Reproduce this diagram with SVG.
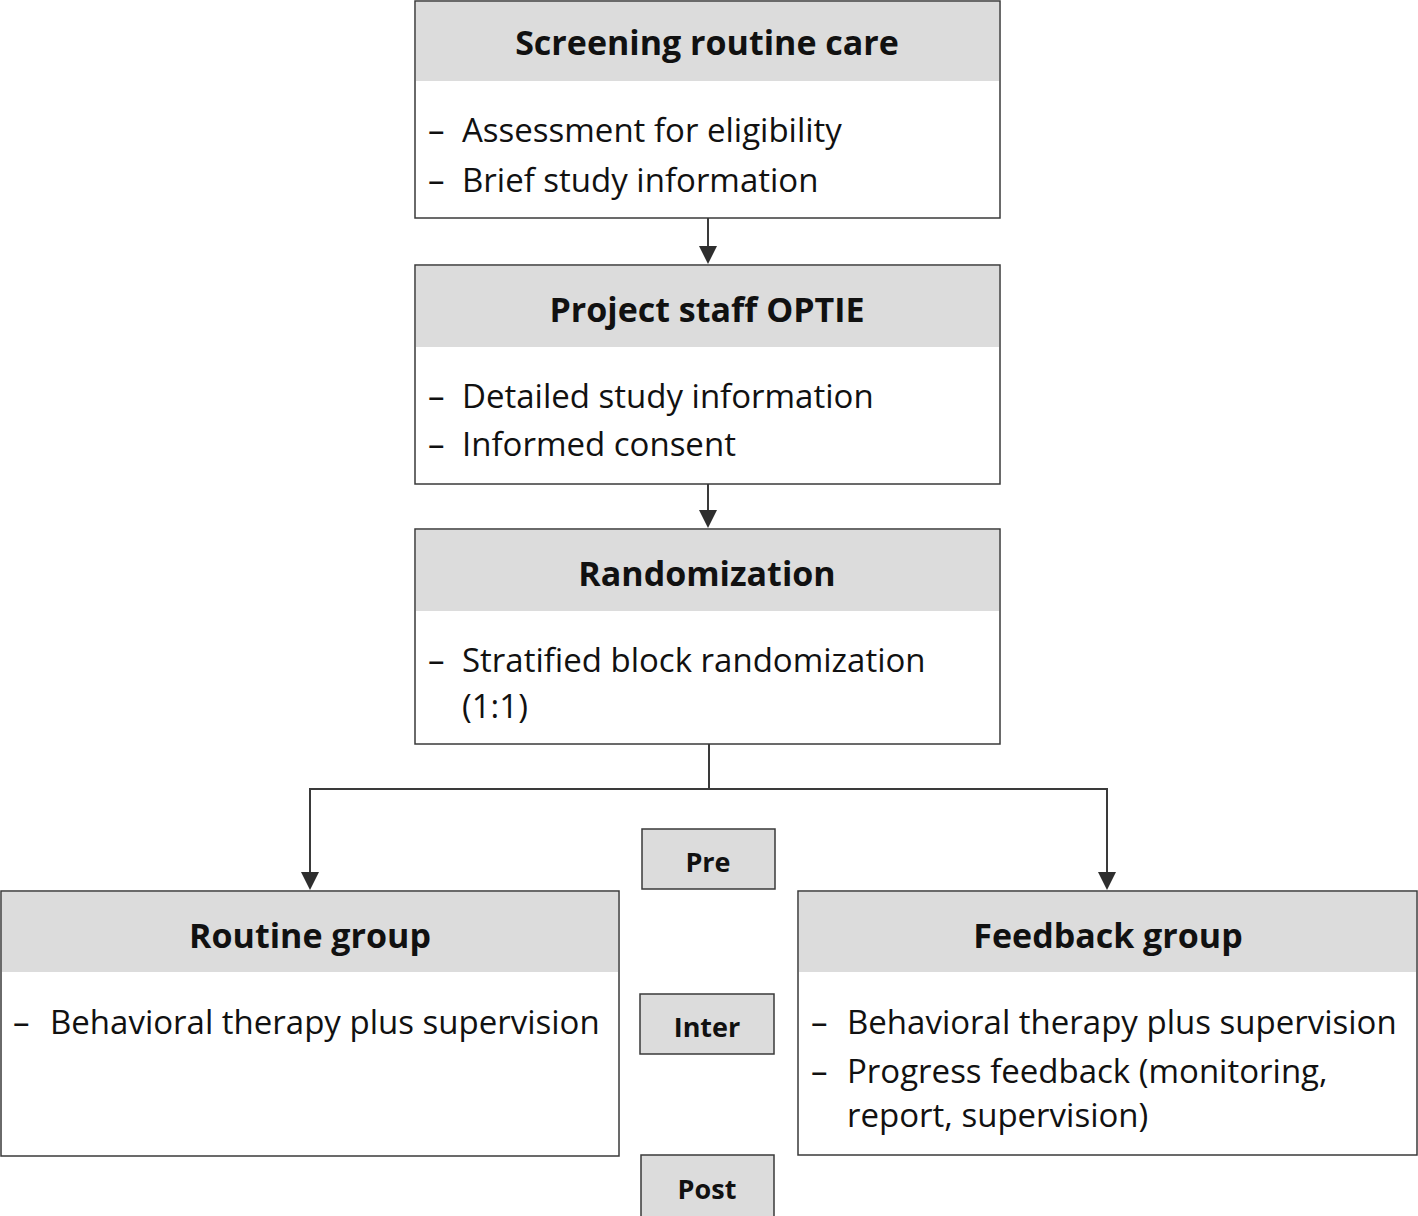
<svg xmlns="http://www.w3.org/2000/svg" width="1418" height="1216" viewBox="0 0 1418 1216">
<defs>
<style>
.box{fill:#fff;stroke:#3a3a3a;stroke-width:1.5}
.hdr{fill:#dcdcdc}
.t{font-family:"Open Sans","Noto Sans",sans-serif;font-weight:bold;font-size:34px;fill:#111;text-anchor:middle}
.b{font-family:"Open Sans","Noto Sans",sans-serif;font-size:33px;fill:#111}
.s{font-family:"Open Sans","Noto Sans",sans-serif;font-weight:bold;font-size:27px;fill:#111;text-anchor:middle}
.sb{fill:#dcdcdc;stroke:#3a3a3a;stroke-width:1.5}
.ln{fill:none;stroke:#3a3a3a;stroke-width:2}
.ah{fill:#2e2e2e}
</style>
</defs>
<g id="connectors">
<line class="ln" x1="708" y1="218" x2="708" y2="248"/>
<path class="ah" d="M699,246 L717,246 L708,264 Z"/>
<line class="ln" x1="708" y1="484" x2="708" y2="512"/>
<path class="ah" d="M699,510 L717,510 L708,528 Z"/>
<polyline class="ln" points="709,744 709,789 310,789 310,874"/>
<polyline class="ln" points="709,789 1107,789 1107,874"/>
<path class="ah" d="M301,872 L319,872 L310,890 Z"/>
<path class="ah" d="M1098,872 L1116,872 L1107,890 Z"/>
</g>
<g id="screening">
<rect class="box" x="415" y="1" width="585" height="217"/>
<rect class="hdr" x="416" y="2" width="583" height="79"/>
<text class="t" x="707" y="55">Screening routine care</text>
<text class="b" x="428" y="142">–</text>
<text class="b" x="462" y="142">Assessment for eligibility</text>
<text class="b" x="428" y="192">–</text>
<text class="b" x="462" y="192">Brief study information</text>
</g>
<g id="project">
<rect class="box" x="415" y="265" width="585" height="219"/>
<rect class="hdr" x="416" y="266" width="583" height="81"/>
<text class="t" x="707" y="322">Project staff OPTIE</text>
<text class="b" x="428" y="408">–</text>
<text class="b" x="462" y="408">Detailed study information</text>
<text class="b" x="428" y="456">–</text>
<text class="b" x="462" y="456">Informed consent</text>
</g>
<g id="randomization">
<rect class="box" x="415" y="529" width="585" height="215"/>
<rect class="hdr" x="416" y="530" width="583" height="81"/>
<text class="t" x="707" y="586">Randomization</text>
<text class="b" x="428" y="672">–</text>
<text class="b" x="462" y="672">Stratified block randomization</text>
<text class="b" x="462" y="718">(1:1)</text>
</g>
<g id="routine">
<rect class="box" x="1" y="891" width="618" height="265"/>
<rect class="hdr" x="2" y="892" width="616" height="80"/>
<text class="t" x="310" y="948">Routine group</text>
<text class="b" x="13" y="1034">–</text>
<text class="b" x="50" y="1034">Behavioral therapy plus supervision</text>
</g>
<g id="feedback">
<rect class="box" x="798" y="891" width="619" height="264"/>
<rect class="hdr" x="799" y="892" width="617" height="80"/>
<text class="t" x="1108" y="948">Feedback group</text>
<text class="b" x="811" y="1034">–</text>
<text class="b" x="847" y="1034">Behavioral therapy plus supervision</text>
<text class="b" x="811" y="1083">–</text>
<text class="b" x="847" y="1083">Progress feedback (monitoring,</text>
<text class="b" x="847" y="1127">report, supervision)</text>
</g>
<g id="pre">
<rect class="sb" x="642" y="829" width="133" height="60"/>
<text class="s" x="708" y="872">Pre</text>
</g>
<g id="inter">
<rect class="sb" x="640" y="994" width="134" height="60"/>
<text class="s" x="707" y="1037">Inter</text>
</g>
<g id="post">
<rect class="sb" x="641" y="1155" width="133" height="62"/>
<text class="s" x="707" y="1199">Post</text>
</g>
</svg>
